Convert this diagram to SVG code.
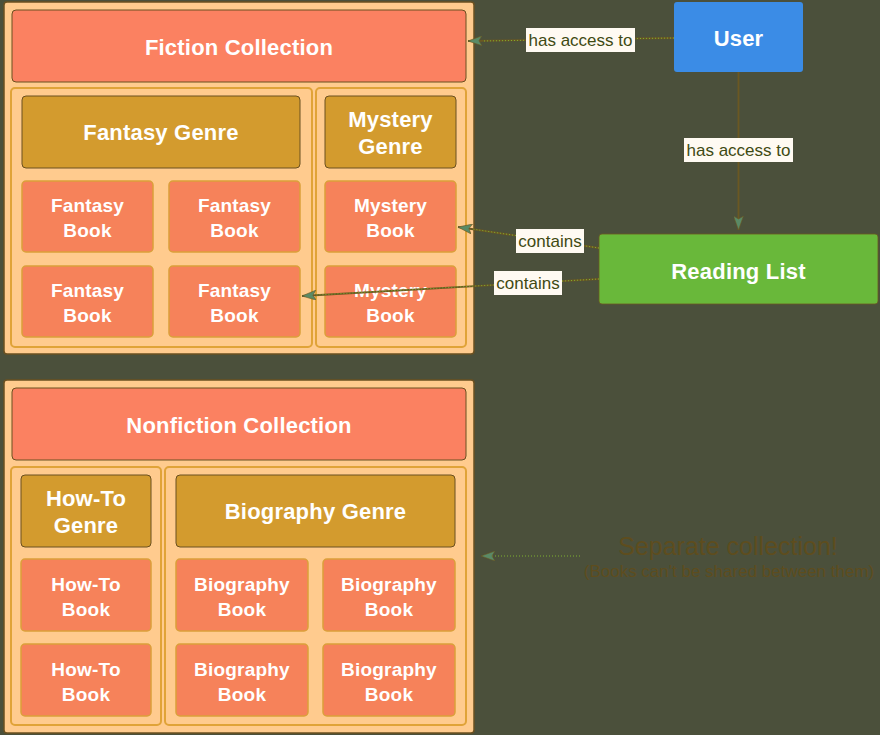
<svg xmlns="http://www.w3.org/2000/svg" width="880" height="735" viewBox="0 0 880 735">
<defs>
<style>
.coll{fill:#ffcb8e;stroke:#6b5020;stroke-width:1.5}
.head{fill:#fb8161;stroke:#6b5020;stroke-width:1}
.sub{fill:#ffcb8e;stroke:#e0a338;stroke-width:2}
.genre{fill:#d39b2e;stroke:#6b5020;stroke-width:1}
.book{fill:#f6825a;stroke:#dba03a;stroke-width:1.5}
.t{font-family:"Liberation Sans",Arial,sans-serif;font-weight:bold;fill:#ffffff;text-anchor:middle}
.h{font-size:22px;letter-spacing:0.2px}
.b{font-size:19px;letter-spacing:0.2px}
.ln{fill:none;stroke:#6b5822;stroke-width:1.8}
.dot{fill:none;stroke:#7fb030;stroke-width:1;stroke-dasharray:1 2}
.lbl{fill:#fffaf2}
.lt{font-family:"Liberation Sans",Arial,sans-serif;font-size:17px;fill:#3f4a12;text-anchor:middle}
.note{font-family:"Liberation Sans",Arial,sans-serif;fill:#5e4d1e;text-anchor:middle}
</style>
<marker id="arr" viewBox="0 0 14 10" refX="14" refY="5" markerWidth="14" markerHeight="10" markerUnits="userSpaceOnUse" orient="auto">
<path d="M0,0 L14,5 L0,10 L3,5 z" fill="#5a8a66" stroke="#6b5822" stroke-width="0.6"/>
</marker>
</defs>
<rect x="0" y="0" width="880" height="735" fill="#4b503b"/>

<g id="fiction-collection">
<rect class="coll" x="4" y="2" width="470" height="352" rx="3"/>
<rect class="head" x="12" y="10" width="454" height="72" rx="4"/>
<text class="t h" x="239" y="55">Fiction Collection</text>
</g>
<g id="fantasy-container"><rect class="sub" x="11" y="88" width="301" height="259" rx="4"/></g>
<g id="mystery-container"><rect class="sub" x="316" y="88" width="150" height="259" rx="4"/></g>
<g id="fantasy-genre">
<rect class="genre" x="22" y="96" width="278" height="72" rx="4"/>
<text class="t h" x="161" y="140">Fantasy Genre</text>
</g>
<g id="mystery-genre">
<rect class="genre" x="325" y="96" width="131" height="72" rx="4"/>
<text class="t h" x="390.5" y="127">Mystery</text>
<text class="t h" x="390.5" y="154">Genre</text>
</g>
<g id="fantasy-book-1">
<rect class="book" x="22" y="181" width="131" height="71" rx="4"/>
<text class="t b" x="87.5" y="212">Fantasy</text><text class="t b" x="87.5" y="237">Book</text>
</g>
<g id="fantasy-book-2">
<rect class="book" x="169" y="181" width="131" height="71" rx="4"/>
<text class="t b" x="234.5" y="212">Fantasy</text><text class="t b" x="234.5" y="237">Book</text>
</g>
<g id="fantasy-book-3">
<rect class="book" x="22" y="266" width="131" height="71" rx="4"/>
<text class="t b" x="87.5" y="297">Fantasy</text><text class="t b" x="87.5" y="322">Book</text>
</g>
<g id="fantasy-book-4">
<rect class="book" x="169" y="266" width="131" height="71" rx="4"/>
<text class="t b" x="234.5" y="297">Fantasy</text><text class="t b" x="234.5" y="322">Book</text>
</g>
<g id="mystery-book-1">
<rect class="book" x="325" y="181" width="131" height="71" rx="4"/>
<text class="t b" x="390.5" y="212">Mystery</text><text class="t b" x="390.5" y="237">Book</text>
</g>
<g id="mystery-book-2">
<rect class="book" x="325" y="266" width="131" height="71" rx="4"/>
<text class="t b" x="390.5" y="297">Mystery</text><text class="t b" x="390.5" y="322">Book</text>
</g>

<g id="nonfiction-collection">
<rect class="coll" x="4" y="380" width="470" height="353" rx="3"/>
<rect class="head" x="12" y="388" width="454" height="72" rx="4"/>
<text class="t h" x="239" y="433">Nonfiction Collection</text>
</g>
<g id="howto-container"><rect class="sub" x="11" y="467" width="150" height="258" rx="4"/></g>
<g id="biography-container"><rect class="sub" x="165" y="467" width="301" height="258" rx="4"/></g>
<g id="howto-genre">
<rect class="genre" x="21" y="475" width="130" height="72" rx="4"/>
<text class="t h" x="86" y="506">How-To</text>
<text class="t h" x="86" y="533">Genre</text>
</g>
<g id="biography-genre">
<rect class="genre" x="176" y="475" width="279" height="72" rx="4"/>
<text class="t h" x="315.5" y="519">Biography Genre</text>
</g>
<g id="howto-book-1">
<rect class="book" x="21" y="559" width="130" height="72" rx="4"/>
<text class="t b" x="86" y="591">How-To</text><text class="t b" x="86" y="616">Book</text>
</g>
<g id="howto-book-2">
<rect class="book" x="21" y="644" width="130" height="72" rx="4"/>
<text class="t b" x="86" y="676">How-To</text><text class="t b" x="86" y="701">Book</text>
</g>
<g id="biography-book-1">
<rect class="book" x="176" y="559" width="132" height="72" rx="4"/>
<text class="t b" x="242" y="591">Biography</text><text class="t b" x="242" y="616">Book</text>
</g>
<g id="biography-book-2">
<rect class="book" x="323" y="559" width="132" height="72" rx="4"/>
<text class="t b" x="389" y="591">Biography</text><text class="t b" x="389" y="616">Book</text>
</g>
<g id="biography-book-3">
<rect class="book" x="176" y="644" width="132" height="72" rx="4"/>
<text class="t b" x="242" y="676">Biography</text><text class="t b" x="242" y="701">Book</text>
</g>
<g id="biography-book-4">
<rect class="book" x="323" y="644" width="132" height="72" rx="4"/>
<text class="t b" x="389" y="676">Biography</text><text class="t b" x="389" y="701">Book</text>
</g>

<g id="user">
<rect x="674" y="2" width="129" height="70" rx="3" fill="#3b8ce6"/>
<text class="t h" x="738.5" y="46">User</text>
</g>
<g id="reading-list">
<rect x="599" y="234" width="279" height="70" rx="3" fill="#69b83a" stroke="#6b5822" stroke-width="0.8"/>
<text class="t h" x="738.5" y="279">Reading List</text>
</g>

<g id="note">
<text class="note" x="728" y="555" font-size="25px">Separate collection!</text>
<text class="note" x="729" y="577" font-size="17px">(Books can't be shared between them)</text>
</g>

<g id="connectors">
<line class="ln" x1="674" y1="38" x2="468" y2="41" marker-end="url(#arr)"/>
<line class="dot" x1="674" y1="38" x2="482" y2="41"/>
<line class="ln" x1="738.5" y1="72" x2="738.5" y2="230" marker-end="url(#arr)"/>
<line class="ln" x1="599" y1="248" x2="458" y2="227" marker-end="url(#arr)"/>
<line class="dot" x1="599" y1="248" x2="472" y2="229"/>
<line class="ln" x1="599" y1="279" x2="302" y2="296" marker-end="url(#arr)"/>
<line class="dot" x1="599" y1="279" x2="316" y2="295"/>
<line class="dot" x1="580" y1="556" x2="481" y2="556" stroke-width="1.5" marker-end="url(#arr)"/>
<rect class="lbl" x="526" y="28" width="109" height="24"/>
<text class="lt" x="580.5" y="46">has access to</text>
<rect class="lbl" x="684" y="138" width="109" height="24"/>
<text class="lt" x="738.5" y="156">has access to</text>
<rect class="lbl" x="516" y="229" width="68" height="24"/>
<text class="lt" x="550" y="247">contains</text>
<rect class="lbl" x="494" y="271" width="68" height="24"/>
<text class="lt" x="528" y="289">contains</text>
</g>
</svg>
